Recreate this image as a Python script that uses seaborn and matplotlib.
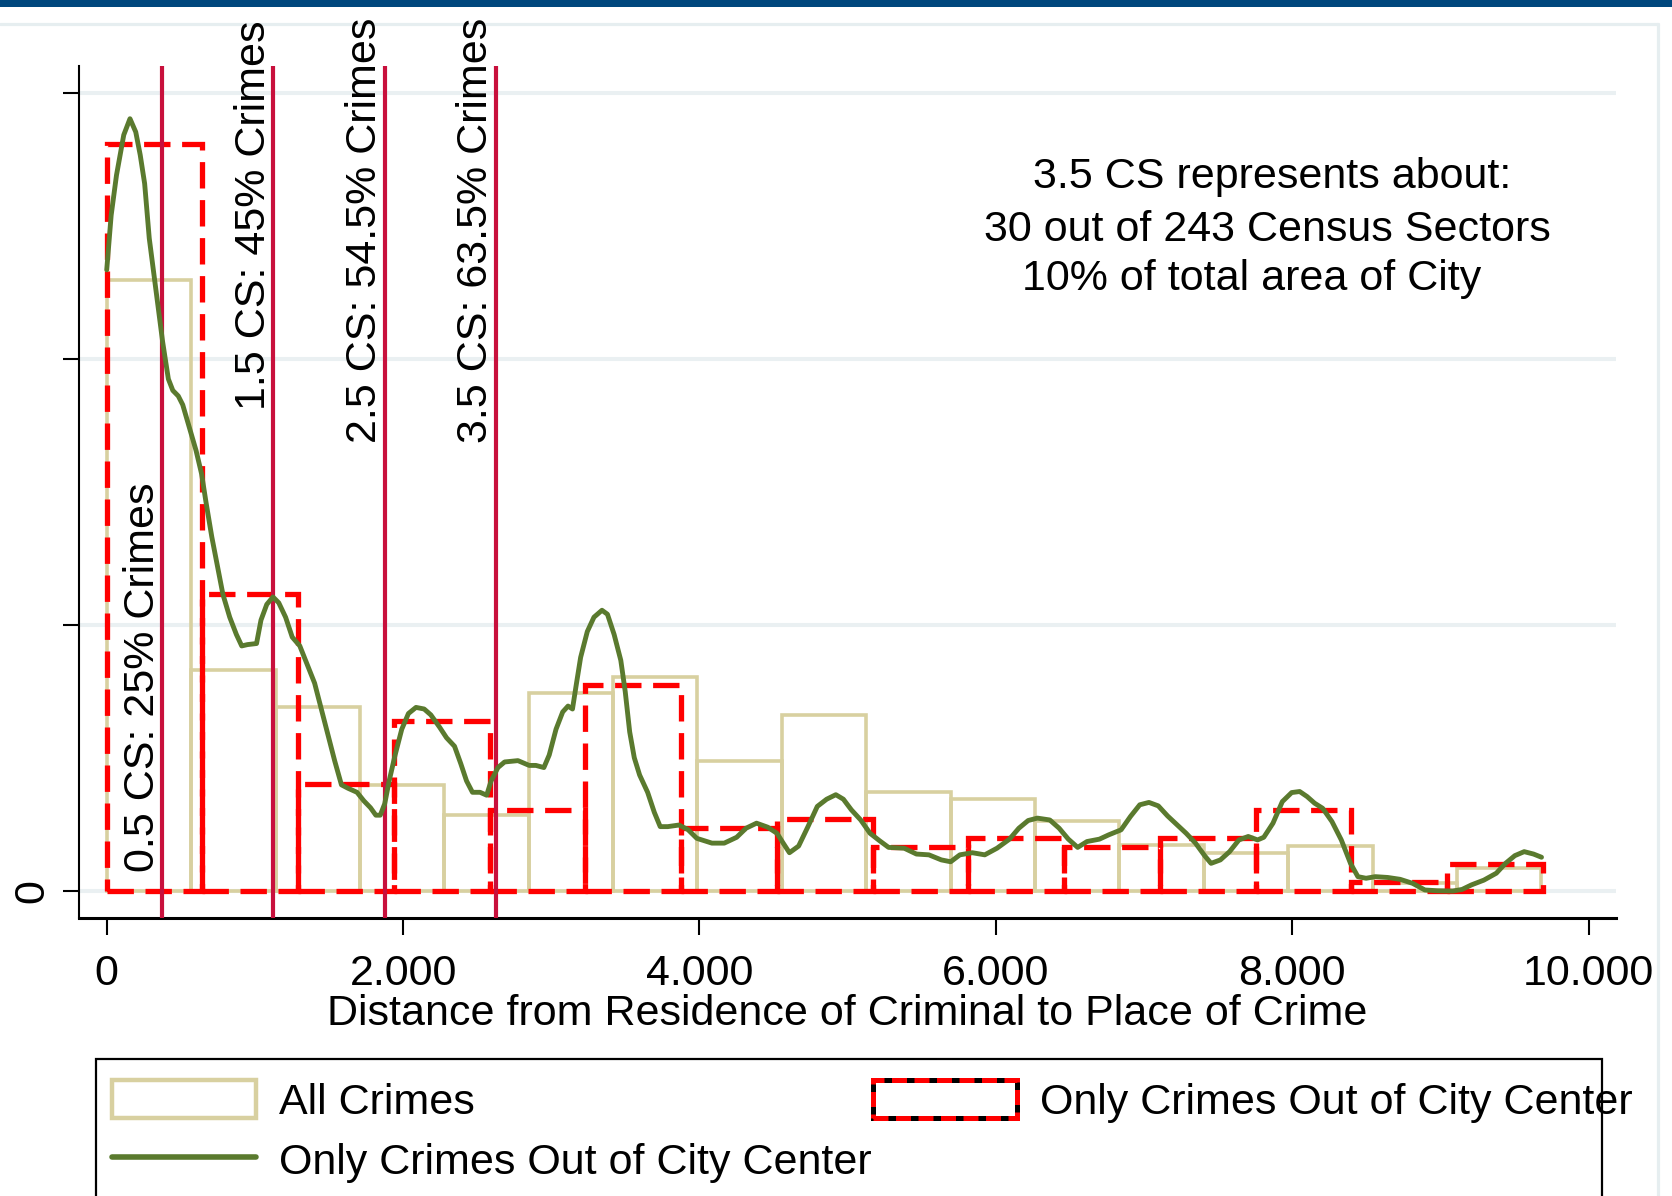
import numpy as np
import matplotlib
matplotlib.use('Agg')
import matplotlib.pyplot as plt
import seaborn as sns
from matplotlib.patches import Patch, Rectangle
from matplotlib.lines import Line2D
from matplotlib.legend_handler import HandlerTuple

sns.set_style('white')
plt.rcParams['font.family'] = ['Liberation Sans', 'DejaVu Sans']
plt.rcParams['text.color'] = 'black'
plt.rcParams['axes.labelcolor'] = 'black'
plt.rcParams['xtick.color'] = 'black'
plt.rcParams['ytick.color'] = 'black'

# histogram of all crimes (17 bins)
all_width = 569.5
all_heights = [2.295, 0.831, 0.690, 0.400, 0.284, 0.745, 0.803, 0.487, 0.662,
               0.371, 0.345, 0.262, 0.173, 0.144, 0.171, 0.029, 0.085]

# histogram of crimes out of city center (15 bins)
out_width = 646
out_heights = [2.807, 1.116, 0.403, 0.640, 0.304, 0.775, 0.237, 0.270, 0.165,
               0.200, 0.166, 0.201, 0.304, 0.035, 0.100]

# kernel density, crimes out of city center
kde_x = [0, 30, 66, 115, 157, 196, 226, 256, 287, 332, 377, 416, 446, 483, 513,
         558, 603, 640, 670, 709, 754, 784, 830, 875, 911, 950, 1011, 1041, 1080,
         1122, 1161, 1207, 1252, 1303, 1357, 1403, 1448, 1493, 1538, 1584, 1629,
         1689, 1735, 1780, 1816, 1846, 1876, 1906, 1946, 1991, 2036, 2087, 2142,
         2187, 2247, 2293, 2347, 2389, 2428, 2468, 2519, 2564, 2594, 2640, 2685,
         2775, 2851, 2896, 2950, 2986, 3032, 3077, 3113, 3143, 3167, 3198, 3243,
         3288, 3342, 3379, 3424, 3469, 3499, 3529, 3560, 3596, 3650, 3695, 3735,
         3786, 3861, 3922, 3982, 4084, 4167, 4251, 4314, 4385, 4460, 4523, 4565,
         4607, 4669, 4732, 4795, 4858, 4920, 4971, 5025, 5088, 5151, 5213, 5276,
         5381, 5464, 5548, 5632, 5695, 5757, 5841, 5925, 6008, 6092, 6155, 6218,
         6280, 6364, 6427, 6489, 6552, 6615, 6699, 6761, 6845, 6908, 6971, 7033,
         7096, 7159, 7222, 7284, 7347, 7410, 7452, 7515, 7577, 7640, 7703, 7766,
         7808, 7870, 7933, 7996, 8050, 8100, 8151, 8205, 8268, 8331, 8393, 8443,
         8498, 8561, 8644, 8728, 8812, 8895, 8979, 9083, 9146, 9209, 9293, 9377,
         9439, 9502, 9565, 9628, 9682]
kde_y = [2.334, 2.539, 2.690, 2.841, 2.902, 2.852, 2.766, 2.658, 2.453, 2.259,
         2.065, 1.924, 1.881, 1.860, 1.827, 1.741, 1.655, 1.568, 1.461, 1.331,
         1.202, 1.115, 1.029, 0.964, 0.921, 0.926, 0.930, 1.018, 1.077, 1.105,
         1.083, 1.029, 0.954, 0.921, 0.846, 0.781, 0.684, 0.587, 0.490, 0.399,
         0.386, 0.371, 0.339, 0.313, 0.285, 0.285, 0.328, 0.414, 0.511, 0.608,
         0.667, 0.690, 0.684, 0.662, 0.615, 0.576, 0.544, 0.479, 0.414, 0.371,
         0.371, 0.360, 0.414, 0.464, 0.485, 0.490, 0.472, 0.472, 0.464, 0.511,
         0.608, 0.673, 0.695, 0.684, 0.770, 0.878, 0.975, 1.029, 1.055, 1.040,
         0.964, 0.867, 0.749, 0.598, 0.501, 0.436, 0.371, 0.296, 0.242, 0.242,
         0.248, 0.231, 0.198, 0.180, 0.180, 0.202, 0.236, 0.255, 0.240, 0.217,
         0.180, 0.144, 0.169, 0.242, 0.318, 0.345, 0.362, 0.345, 0.305, 0.267,
         0.217, 0.190, 0.164, 0.161, 0.139, 0.136, 0.117, 0.110, 0.136, 0.144,
         0.136, 0.161, 0.195, 0.236, 0.265, 0.274, 0.267, 0.236, 0.195, 0.164,
         0.186, 0.195, 0.211, 0.230, 0.280, 0.324, 0.333, 0.320, 0.282, 0.249,
         0.217, 0.180, 0.132, 0.104, 0.117, 0.148, 0.192, 0.205, 0.192, 0.202,
         0.255, 0.336, 0.370, 0.374, 0.355, 0.330, 0.311, 0.261, 0.192, 0.104,
         0.054, 0.048, 0.054, 0.051, 0.044, 0.029, 0.004, 0.001, 0.000, 0.006,
         0.023, 0.041, 0.067, 0.104, 0.133, 0.148, 0.139, 0.127]

# census sector radii
cs_lines = [375, 1125, 1875, 2625]
cs_labels = ['0.5 CS: 25% Crimes', '1.5 CS: 45% Crimes',
             '2.5 CS: 54.5% Crimes', '3.5 CS: 63.5% Crimes']
cs_label_y = [0.07, 1.806, 1.685, 1.685]

note_lines = ['3.5 CS represents about:', '30 out of 243 Census Sectors',
              '10% of total area of City']

x_ticks = [0, 2000, 4000, 6000, 8000, 10000]
x_ticklabels = ['0', '2.000', '4.000', '6.000', '8.000', '10.000']

tan = '#D8D0A0'
green = '#5A7A2E'
crimson = '#C8103C'
grid_c = '#EAF0F2'
fs = 31

fig = plt.figure(figsize=(16.72, 11.96), dpi=100)
ax = fig.add_axes([0.04725, 0.2324, 0.9192, 0.7124])

all_centers = [all_width * (i + 0.5) for i in range(len(all_heights))]
out_centers = [out_width * (i + 0.5) for i in range(len(out_heights))]

sns.histplot(x=all_centers, weights=all_heights, binwidth=all_width,
             binrange=(0, all_width * len(all_heights)), element='bars',
             fill=False, color=tan, linewidth=2.6, ax=ax, zorder=2)
sns.histplot(x=out_centers, weights=out_heights, binwidth=out_width,
             binrange=(0, out_width * len(out_heights)), element='bars',
             fill=False, color='red', linewidth=3.8,
             linestyle=(0, (5, 2.2)), ax=ax, zorder=3)

for xv in cs_lines:
    ax.axvline(xv, color=crimson, lw=3.0, zorder=3.5)

sns.lineplot(x=kde_x, y=kde_y, sort=False, estimator=None, color=green,
             lw=3.5, ax=ax, zorder=4)

for xv, lab, yv in zip(cs_lines, cs_labels, cs_label_y):
    ax.text(xv - 133, yv, lab, rotation=90, ha='center', va='bottom',
            fontsize=fs, clip_on=False, zorder=5)

for (xv, yv), line in zip([(7862, 2.682), (7829, 2.483), (7729, 2.299)], note_lines):
    ax.text(xv, yv, line, ha='center', va='center', fontsize=fs)

ax.set_xlim(-187, 10184)
ax.set_ylim(-0.1015, 3.100)
ax.set_xticks(x_ticks)
ax.set_xticklabels(x_ticklabels, fontsize=fs)
ax.set_yticks([0, 1, 2, 3])
ax.set_yticklabels(['0', '', '', ''], fontsize=fs, rotation=90, va='center')
ax.set_xlabel('Distance from Residence of Criminal to Place of Crime',
              fontsize=fs, labelpad=0.5)
ax.set_ylabel('')

ax.grid(axis='y', color=grid_c, lw=2.9, zorder=0)
ax.grid(axis='x', visible=False)
ax.set_axisbelow(True)
for side in ['top', 'right']:
    ax.spines[side].set_visible(False)
ax.spines['left'].set_linewidth(1.5)
ax.spines['bottom'].set_linewidth(2.2)
ax.spines['left'].set_color('black')
ax.spines['bottom'].set_color('black')
ax.tick_params(axis='x', direction='out', length=12, width=1.5, pad=13.6,
               bottom=True, colors='black')
ax.tick_params(axis='y', direction='out', length=11.5, width=1.5, pad=8,
               left=True, colors='black')

# page decoration
fig.add_artist(Rectangle((0, 1 - 7 / 1196), 1, 7 / 1196, transform=fig.transFigure,
                         color='#00477D', lw=0, zorder=-5))
fig.add_artist(Line2D([0, 1658 / 1672], [1 - 23.5 / 1196] * 2, transform=fig.transFigure,
                      color='#E6EEF0', lw=2.3, zorder=-5))
fig.add_artist(Line2D([1658 / 1672] * 2, [0, 1 - 23.5 / 1196], transform=fig.transFigure,
                      color='#E6EEF0', lw=2.3, zorder=-5))

# legend
fig.add_artist(Rectangle((96 / 1672, -0.05), (1602 - 96) / 1672, 0.05 + 1 - 1059 / 1196,
                         transform=fig.transFigure, fill=False, ec='black', lw=1.6))
h_all = Patch(facecolor='white', edgecolor=tan, lw=3.2)
h_kde = Line2D([], [], color=green, lw=4)
h_out = (Patch(facecolor='white', edgecolor='black', lw=3.6),
         Patch(facecolor='none', edgecolor='red', lw=3.6, linestyle=(0, (3, 1.5))))
fig.legend([h_all, h_kde, h_out],
           ['All Crimes', 'Only Crimes Out of City Center', 'Only Crimes Out of City Center'],
           handler_map={tuple: HandlerTuple(ndivide=1)},
           loc='upper left', bbox_to_anchor=(112 / 1672, 1 - 1079.5 / 1196),
           ncol=2, frameon=False, fontsize=fs, borderpad=0, borderaxespad=0,
           handlelength=3.34, handleheight=1.0, handletextpad=0.53,
           columnspacing=0.05, labelspacing=0.40)

plt.savefig('out.png', dpi=100)
plt.close()
